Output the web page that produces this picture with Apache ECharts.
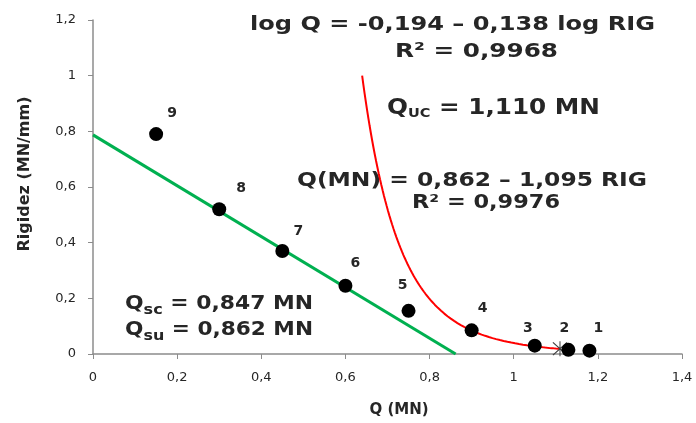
<!DOCTYPE html>
<html>
<head>
<meta charset="utf-8">
<style>
  html, body { margin: 0; padding: 0; background: #fff; }
  #chart { width: 696px; height: 423px; }
</style>
<script src="https://cdn.jsdelivr.net/npm/echarts@6/dist/echarts.min.js"></script>
</head>
<body>
<div id="chart"></div>
<script>
// Load test results: applied load Q (MN) vs rigidity (MN/mm), points numbered 1..9
const pointNames = ['1', '2', '3', '4', '5', '6', '7', '8', '9'];
const loadQ      = [1.18, 1.13, 1.05, 0.90, 0.75, 0.60, 0.45, 0.30, 0.15];
const rigidity   = [0.012, 0.015, 0.03, 0.085, 0.155, 0.245, 0.37, 0.52, 0.79];

// Linear fit: Q = 0.862 - 1.095 RIG
const linearCoef = [0.862, 1.095];
// Power fit: log Q = -0.194 - 0.138 log RIG
const logCoef = [-0.194, -0.138];
// Ultimate load from the power fit
const qUltimate = [1.110];

// Axis tick labels
const xTickLabels = ['0', '0,2', '0,4', '0,6', '0,8', '1', '1,2', '1,4'];
const yTickLabels = ['0', '0,2', '0,4', '0,6', '0,8', '1', '1,2'];

// Label placement for each numbered point (pixels, relative to the marker)
const labelOffsets = [[9, -22], [-4, -21], [-7, -17], [11, -22], [-6, -25], [10, -22], [16, -20], [22, -21], [16, -21]];

const FONT = '"DejaVu Sans"';
const TEXT = '#262626';

// Linear trend line: from RIG = 0 to Q = 0
const linearLine = [
  [linearCoef[0], 0],
  [0, linearCoef[0] / linearCoef[1]]
];

// Power trend curve, from RIG = 1 down to the rigidity where Q reaches Q_UC
const qAt = r => Math.pow(10, logCoef[0] + logCoef[1] * Math.log10(r));
const rigEnd = Math.pow(10, (Math.log10(qUltimate[0]) - logCoef[0]) / logCoef[1]);
const powerCurve = [];
const nSteps = 120;
for (let i = 0; i <= nSteps; i++) {
  const r = Math.pow(10, Math.log10(rigEnd) * i / nSteps);
  powerCurve.push([qAt(r), r]);
}

const scatterData = loadQ.map((q, i) => ({
  value: [q, rigidity[i]],
  name: pointNames[i],
  label: { offset: labelOffsets[i] }
}));

// Annotation text: runs of bold text laid out left to right and stretched to a given width
const measureCtx = document.createElement('canvas').getContext('2d');
function runWidth(str, size) {
  measureCtx.font = 'bold ' + size + 'px ' + FONT;
  return measureCtx.measureText(str).width;
}
function textBlock(left, midY, width, runs) {
  let cx = 0;
  const children = runs.map(run => {
    const el = {
      type: 'text', x: cx, y: run.dy || 0,
      style: {
        text: run.text, font: 'bold ' + run.size + 'px ' + FONT,
        fill: TEXT, textAlign: 'left', textVerticalAlign: 'middle'
      }
    };
    cx += runWidth(run.text, run.size);
    return el;
  });
  return { type: 'group', x: left, y: midY, scaleX: width / cx, children: children };
}

const chart = echarts.init(document.getElementById('chart'), null, { renderer: 'canvas' });

const axisCommon = {
  type: 'value',
  splitLine: { show: false },
  axisLine: { show: true, lineStyle: { color: '#8c8c8c', width: 1.5 } },
  axisTick: { show: true, inside: false, length: 5, lineStyle: { color: '#8c8c8c', width: 1 } },
  axisLabel: { fontFamily: 'DejaVu Sans', fontSize: 13, color: TEXT, margin: 17 }
};

chart.setOption({
  animation: false,
  backgroundColor: '#fff',
  grid: { left: 93, right: 14, top: 20, bottom: 69 },
  xAxis: Object.assign({}, axisCommon, {
    min: 0, max: 1.4, interval: 0.2,
    axisLabel: Object.assign({}, axisCommon.axisLabel, {
      formatter: v => xTickLabels[Math.round(v / 0.2)]
    })
  }),
  yAxis: Object.assign({}, axisCommon, {
    min: 0, max: 1.2, interval: 0.2,
    axisLabel: Object.assign({}, axisCommon.axisLabel, {
      formatter: v => yTickLabels[Math.round(v / 0.2)]
    })
  }),
  series: [
    {
      type: 'line',
      data: linearLine,
      symbol: 'none',
      lineStyle: { color: '#00b050', width: 3 },
      z: 2
    },
    {
      type: 'line',
      data: powerCurve,
      symbol: 'none',
      lineStyle: { color: '#ff0000', width: 2 },
      z: 3
    },
    {
      type: 'scatter',
      data: [[qUltimate[0], rigEnd]],
      symbol: 'path://M1,2L2,1L19,18L18,19Z M18,1L19,2L2,19L1,18Z M9.4,0L10.6,0L10.6,20L9.4,20Z',
      symbolSize: 15,
      itemStyle: { color: '#404040', opacity: 1 },
      z: 4
    },
    {
      type: 'scatter',
      data: scatterData,
      symbol: 'circle',
      symbolSize: 14,
      itemStyle: { color: '#000', opacity: 1 },
      label: {
        show: true,
        position: 'inside',
        formatter: p => p.name,
        fontFamily: 'DejaVu Sans',
        fontWeight: 'bold',
        fontSize: 14,
        color: TEXT
      },
      z: 5
    }
  ],
  graphic: [
    {
      type: 'text', x: 399, y: 410,
      style: { text: 'Q (MN)', font: 'bold 15px ' + FONT, fill: TEXT, textAlign: 'center', textVerticalAlign: 'middle' }
    },
    {
      type: 'text', x: 25, y: 174, rotation: Math.PI / 2,
      style: { text: 'Rigidez (MN/mm)', font: 'bold 16px ' + FONT, fill: TEXT, textAlign: 'center', textVerticalAlign: 'middle' }
    },
    textBlock(250, 25, 405, [{ text: 'log Q = -0,194 – 0,138 log RIG', size: 20 }]),
    textBlock(395, 52, 163, [{ text: 'R² = 0,9968', size: 20 }]),
    textBlock(387, 108, 213, [
      { text: 'Q', size: 22 },
      { text: 'UC', size: 13, dy: 6 },
      { text: ' = 1,110 MN', size: 22 }
    ]),
    textBlock(297, 181, 350, [{ text: 'Q(MN) = 0,862 – 1,095 RIG', size: 19 }]),
    textBlock(412, 203, 148, [{ text: 'R² = 0,9976', size: 19 }]),
    textBlock(125, 304, 188, [
      { text: 'Q', size: 19 },
      { text: 'sc', size: 14, dy: 6 },
      { text: ' = 0,847 MN', size: 19 }
    ]),
    textBlock(125, 330, 188, [
      { text: 'Q', size: 19 },
      { text: 'su', size: 14, dy: 6 },
      { text: ' = 0,862 MN', size: 19 }
    ])
  ]
});
</script>
</body>
</html>
